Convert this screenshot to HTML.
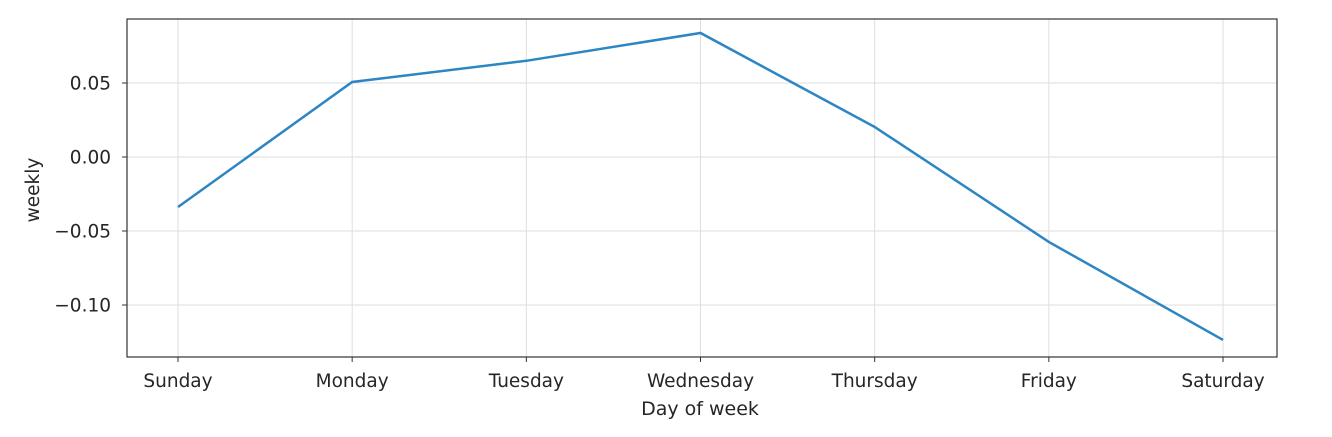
<!DOCTYPE html>
<html><head><meta charset="utf-8"><style>
body{margin:0;background:#fff;}
svg text{font-family:"DejaVu Sans","Liberation Sans",sans-serif;fill:#262626;}
</style></head><body>
<svg id="chart" width="1332" height="432">
<g id="grid"></g><g id="axes"></g><g id="series"></g>
<rect x="127" y="19" width="1150" height="338" fill="none" stroke="#333" stroke-width="1.2"/>
<text x="700" y="415" font-size="19" text-anchor="middle">Day of week</text>
<text transform="translate(39,190) rotate(-90)" font-size="18.5" text-anchor="middle">weekly</text>
</svg>
<script>
const categories=["Sunday","Monday","Tuesday","Wednesday","Thursday","Friday","Saturday"];
const weekly=[-0.0338,0.0507,0.065,0.0838,0.0203,-0.0574,-0.1236];
const yTicks=[0.05,0,-0.05,-0.10];
const yTickLabels=["0.05","0.00","\u22120.05","\u22120.10"];
const ns="http://www.w3.org/2000/svg";
function xs(i){return 178+i*174.17;}
function ys(v){return 157-v*1480;}
function mk(t,a,p){const e=document.createElementNS(ns,t);for(const k in a)e.setAttribute(k,a[k]);p.appendChild(e);return e;}
const grid=document.getElementById('grid'),axes=document.getElementById('axes'),series=document.getElementById('series');
categories.forEach((c,i)=>{
 const g=mk('line',{x1:xs(i),x2:xs(i),y1:19,y2:357,stroke:'#dedede','stroke-width':1},grid);
 
 
 const t=mk('line',{x1:xs(i),x2:xs(i),y1:357,y2:362,stroke:'#333'},axes);
 
 
 const l=mk('text',{x:xs(i),y:387,'font-size':18.5,'text-anchor':'middle'},axes);l.textContent=c;
 
 
});
yTicks.forEach((v,i)=>{
 const g=mk('line',{x1:127,x2:1277,y1:ys(v),y2:ys(v),stroke:'#dedede','stroke-width':1},grid);
 
 
 const t=mk('line',{x1:122,x2:127,y1:ys(v),y2:ys(v),stroke:'#333'},axes);
 
 
 const l=mk('text',{x:111,y:ys(v)+6.5,'font-size':18.5,'text-anchor':'end'},axes);l.textContent=yTickLabels[i];
 
 
});
const pl=mk('polyline',{points:weekly.map((v,i)=>xs(i)+','+ys(v)).join(' '),fill:'none',stroke:'#2b86c3','stroke-width':2.5},series);


</script>
</body></html>
